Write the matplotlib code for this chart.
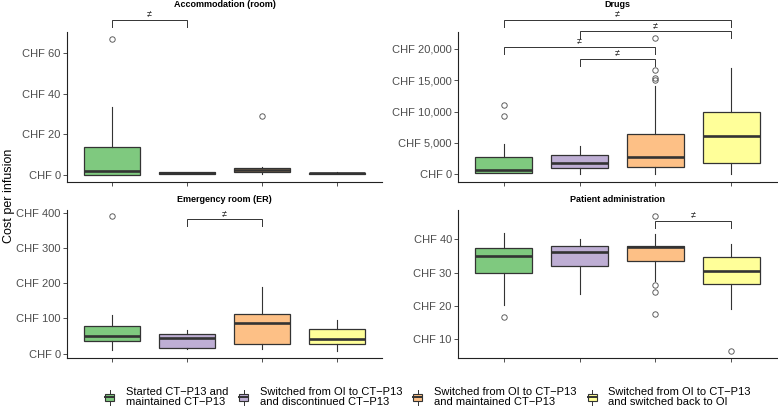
import matplotlib
matplotlib.use("Agg")
import matplotlib.pyplot as plt
from matplotlib.patches import Rectangle, Patch
from matplotlib.lines import Line2D
from matplotlib.legend_handler import HandlerBase
from matplotlib.ticker import FixedLocator, FuncFormatter

plt.rcParams['font.family'] = ['Liberation Sans', 'DejaVu Sans']

# ---------------- data ----------------
groups = ["Started CT\u2212P13 and\nmaintained CT\u2212P13",
          "Switched from OI to CT\u2212P13\nand discontinued CT\u2212P13",
          "Switched from OI to CT\u2212P13\nand maintained CT\u2212P13",
          "Switched from OI to CT\u2212P13\nand switched back to OI"]
colors = ["#7FC97F", "#BEAED4", "#FDC086", "#FFFF99"]

panel_titles = ["Accommodation (room)", "Drugs", "Emergency room (ER)", "Patient administration"]

acc_q1 = [0.0, 0.5, 1.3, 0.3]
acc_med = [1.8, 0.8, 2.5, 0.6]
acc_q3 = [13.7, 1.2, 3.3, 0.9]
acc_lo = [0.0, 0.3, 0.5, 0.2]
acc_hi = [33.5, 1.5, 3.8, 1.1]
acc_out = [[67.0], [], [29.0], []]
acc_ticks = [0, 20, 40, 60]
acc_sig = [(1, 2, 76.5)]

drg_q1 = [270, 1000, 1180, 1820]
drg_med = [750, 1870, 2780, 6100]
drg_q3 = [2780, 3150, 6500, 9900]
drg_lo = [200, 100, 0, 0]
drg_hi = [4900, 4550, 14100, 16950]
drg_out = [[11000, 9360], [], [15000, 15300, 16600, 21700], []]
drg_ticks = [0, 5000, 10000, 15000, 20000]
drg_sig = [(1, 4, 24600), (2, 4, 22800), (1, 3, 20270), (2, 3, 18450)]

er_q1 = [36, 17, 28.4, 26.5]
er_med = [51, 44.5, 87, 41.7]
er_q3 = [78.7, 56.9, 112.8, 71]
er_lo = [11.4, 14, 14, 7.6]
er_hi = [109, 68, 189.6, 94.8]
er_out = [[390.5], [], [], []]
er_ticks = [0, 100, 200, 300, 400]
er_sig = [(2, 3, 381)]

pa_q1 = [29.8, 31.9, 33.6, 26.5]
pa_med = [35.1, 36.1, 37.7, 30.6]
pa_q3 = [37.3, 38.1, 37.9, 34.8]
pa_lo = [20.2, 23.7, 27.6, 19.2]
pa_hi = [42.0, 40.1, 41.5, 38.5]
pa_out = [[16.6], [], [47.0, 26.4, 24.1, 17.7], [6.4]]
pa_ticks = [10, 20, 30, 40]
pa_sig = [(3, 4, 45.6)]

# ---------------- layout ----------------
W, H = 778, 408
fig = plt.figure(figsize=(W / 100, H / 100), dpi=100)

def px_axes(l, t, r, b):
    return fig.add_axes([l / W, 1 - b / H, (r - l) / W, (b - t) / H])

panels = [
    dict(ax=px_axes(67, 32, 382, 182), q1=acc_q1, med=acc_med, q3=acc_q3, lo=acc_lo, hi=acc_hi,
         out=acc_out, ticks=acc_ticks, sig=acc_sig, ylim=(-3.6, 70.4), title_y=4.5),
    dict(ax=px_axes(458, 32, 777, 182), q1=drg_q1, med=drg_med, q3=drg_q3, lo=drg_lo, hi=drg_hi,
         out=drg_out, ticks=drg_ticks, sig=drg_sig, ylim=(-1230, 22700), title_y=4.5),
    dict(ax=px_axes(67, 210, 382, 358), q1=er_q1, med=er_med, q3=er_q3, lo=er_lo, hi=er_hi,
         out=er_out, ticks=er_ticks, sig=er_sig, ylim=(-12.3, 407.6), title_y=200),
    dict(ax=px_axes(458, 210, 777, 358), q1=pa_q1, med=pa_med, q3=pa_q3, lo=pa_lo, hi=pa_hi,
         out=pa_out, ticks=pa_ticks, sig=pa_sig, ylim=(4.4, 48.8), title_y=200),
]

edge = "#333333"
for p, title in zip(panels, panel_titles):
    ax = p["ax"]
    stats = []
    for i in range(4):
        stats.append(dict(med=p["med"][i], q1=p["q1"][i], q3=p["q3"][i],
                          whislo=p["lo"][i], whishi=p["hi"][i], fliers=p["out"][i]))
    bp = ax.bxp(stats, positions=[1, 2, 3, 4], widths=0.75, patch_artist=True,
                showcaps=False, showfliers=True,
                boxprops=dict(edgecolor=edge, linewidth=0.9),
                medianprops=dict(color=edge, linewidth=1.9, solid_capstyle='butt'),
                whiskerprops=dict(color=edge, linewidth=0.8),
                flierprops=dict(marker='o', markerfacecolor='none', markeredgecolor='#555555',
                                markersize=3.9, markeredgewidth=0.65))
    for box, c in zip(bp["boxes"], colors):
        box.set_facecolor(c)
    ax.set_xlim(0.4, 4.6)
    ax.set_ylim(*p["ylim"])
    ax.yaxis.set_major_locator(FixedLocator(p["ticks"]))
    ax.yaxis.set_major_formatter(FuncFormatter(lambda v, pos: f"CHF {v:,.0f}"))
    ax.set_xticks([1, 2, 3, 4])
    ax.set_xticklabels([])
    for s in ["top", "right"]:
        ax.spines[s].set_visible(False)
    for s in ["left", "bottom"]:
        ax.spines[s].set_color("#222222")
        ax.spines[s].set_linewidth(0.8)
    ax.tick_params(axis='both', length=3, width=0.6, color="#333333",
                   labelsize=8, labelcolor="#4D4D4D", pad=1.5)
    # significance brackets
    y0, y1 = p["ylim"]
    tick = (y1 - y0) * 0.047
    for a, b, yb in p["sig"]:
        ax.plot([a, a, b, b], [yb - tick, yb, yb, yb - tick], color=edge, lw=0.7,
                clip_on=False, solid_joinstyle='miter')
        ax.annotate("\u2260", xy=((a + b) / 2, yb), xytext=(0, 3.8), textcoords='offset points',
                    ha='center', va='center', fontsize=6.5, color="#222222",
                    annotation_clip=False)
    # panel title
    bb = ax.get_position()
    fig.text((bb.x0 + bb.x1) / 2, 1 - p["title_y"] / H, title, ha='center', va='center',
             fontsize=6.5, fontweight='bold', color='black')

fig.text(9 / W, 1 - 196 / H, "Cost per infusion", rotation=90, ha='center', va='center',
         fontsize=9, color='black')

# ---------------- legend ----------------
class BoxHandler(HandlerBase):
    def create_artists(self, legend, orig_handle, xdescent, ydescent, width, height,
                       fontsize, trans):
        x0, y0 = -xdescent, -ydescent
        cx = x0 + width / 2
        bh = height * 0.52
        by = y0 + (height - bh) / 2
        wl = Line2D([cx, cx], [y0, y0 + height], color=edge, lw=0.7, transform=trans)
        rect = Rectangle((x0, by), width, bh, facecolor=orig_handle.get_facecolor(),
                         edgecolor=edge, lw=0.8, transform=trans)
        med = Line2D([x0, x0 + width], [y0 + height / 2] * 2, color=edge, lw=1.4,
                     transform=trans)
        return [wl, rect, med]

handles = [Patch(facecolor=c) for c in colors]
leg = fig.legend(handles, groups, loc='center', bbox_to_anchor=(428 / W, 1 - 397 / H),
                 ncol=4, frameon=False, fontsize=8, handler_map={Patch: BoxHandler()},
                 handlelength=0.8, handleheight=1.6, handletextpad=1.05,
                 columnspacing=1.0, borderpad=0, borderaxespad=0)
for t in leg.get_texts():
    t.set_linespacing(0.95)
    t.set_color('black')

fig.savefig("out.png", dpi=100)
